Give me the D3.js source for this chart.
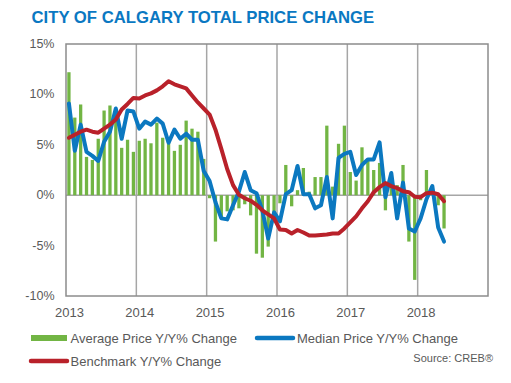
<!DOCTYPE html>
<html>
<head>
<meta charset="utf-8">
<script src="https://cdn.jsdelivr.net/npm/d3@7"></script>
<style>
  html, body { margin: 0; padding: 0; background: #fff; }
  svg { display: block; font-family: "Liberation Sans", Arial, sans-serif; }
</style>
</head>
<body>
<svg id="chart" width="511" height="383"></svg>
<script>
// ---------- data ----------
const title = "CITY OF CALGARY TOTAL PRICE CHANGE";
const years = ["2013", "2014", "2015", "2016", "2017", "2018"];
const yTicks = [15, 10, 5, 0, -5, -10];
// monthly values, Jan 2013 .. May 2018
const averageChange = [
  12.2, 7.7, 9.0, 3.8, 3.5, 5.6, 8.4, 8.9, 8.5, 4.7, 5.5, 4.3,
  5.4, 5.6, 5.15, 7.2, 5.7, 5.4, 4.4, 5.0, 7.4, 6.6, 6.3, 3.6,
  -0.3, -4.6, -2.2, -1.6, -1.5, -1.3, -0.9, -2.0, -5.8, -6.2, -5.1, -2.5,
  -0.8, 3.0, -1.1, 0.5, 2.7, 0.35, 1.8, 1.8, 6.9, 0.85, 5.1, 6.9,
  2.3, 1.45, 4.75, 3.5, 2.5, 3.2, -1.5, 1.8, 1.0, 3.0, -4.6, -8.4,
  -0.5, 2.5, 0.3, -1.0, -3.3
];
const medianChange = [
  9.1, 4.4, 7.0, 4.3, 3.9, 3.4, 5.3, 6.3, 8.6, 5.6, 8.4, 8.3,
  6.6, 7.3, 7.0, 7.6, 7.1, 5.2, 6.5, 5.6, 6.1, 5.5, 5.5, 2.4,
  1.4, -0.7, -2.3, -2.4, -1.0, 0.35, 2.3, 0.5, 0.2, -1.5, -4.3, -1.7,
  -2.6, 0.1, 0.5, 2.9, 0.1, 0.1, -1.3, -1.0, 1.8, -2.3, 3.7, 4.1,
  4.3, 2.0, 3.0, 3.55, 3.55, 5.25, -0.2, 2.2, -2.3, 1.25, -3.3, -3.6,
  -2.3, -0.4, 0.9, -3.2, -4.6
];
const benchmarkChange = [
  5.7, 6.0, 6.3, 6.5, 6.3, 6.2, 6.6, 7.0, 7.5, 8.5, 9.05, 9.65,
  9.6, 9.9, 10.1, 10.4, 10.8, 11.3, 11.0, 10.8, 10.6, 9.9, 9.2, 8.6,
  8.0, 6.5, 4.6, 2.6, 1.0, 0.05, -0.3, -0.55, -0.95, -1.5, -1.9, -2.3,
  -3.4, -3.45, -3.8, -3.45, -3.7, -4.0, -4.0, -3.95, -3.9, -3.8, -3.8, -3.3,
  -2.7, -2.1, -1.3, -0.6, 0.3, 0.8, 1.2, 0.9, 0.7, 0.4, 0.3, -0.15,
  -0.2, 0.2, 0.25, 0.1, -0.6
];
const seriesNames = ["Average Price Y/Y% Change", "Median Price Y/Y% Change", "Benchmark Y/Y% Change"];
const sourceText = "Source: CREB\u00AE";

// ---------- layout ----------
const colors = { avg: "#72b544", median: "#0b78c0", bench: "#b9212a", title: "#0a78c2", text: "#595959", grid: "#a6a6a6", frame: "#8c8c8c" };
const plot = { left: 66, right: 488, top: 44, bottom: 296 };
const monthsPerYear = 12;
const totalMonths = years.length * monthsPerYear; // axis runs Jan 2013 .. Jan 2019

const svg = d3.select("#chart");

const x = d3.scaleLinear().domain([0, totalMonths]).range([plot.left, plot.right]);
const y = d3.scaleLinear().domain([-10, 15]).range([plot.bottom, plot.top]);
const monthW = x(1) - x(0);
const barW = monthW * 0.56;

// title
svg.append("text")
  .attr("x", 31.5).attr("y", 23.3)
  .attr("fill", colors.title)
  .attr("font-weight", "bold")
  .attr("font-size", "16.7px")
  .text(title);

// vertical year gridlines
const yearBounds = d3.range(0, totalMonths + 1, monthsPerYear);
svg.append("g").selectAll("line").data(yearBounds.slice(1, -1)).join("line")
  .attr("x1", d => x(d)).attr("x2", d => x(d))
  .attr("y1", plot.top).attr("y2", plot.bottom)
  .attr("stroke", colors.grid).attr("stroke-width", 1.5);

// zero line
svg.append("line")
  .attr("x1", plot.left).attr("x2", plot.right)
  .attr("y1", y(0)).attr("y2", y(0))
  .attr("stroke", colors.grid).attr("stroke-width", 1.5);

// bars
svg.append("g").selectAll("rect").data(averageChange).join("rect")
  .attr("x", (d, i) => x(i + 0.5) - barW / 2)
  .attr("width", barW)
  .attr("y", d => y(Math.max(0, d)))
  .attr("height", d => Math.abs(y(d) - y(0)))
  .attr("fill", colors.avg);

// frame
svg.append("rect")
  .attr("x", plot.left).attr("y", plot.top)
  .attr("width", plot.right - plot.left).attr("height", plot.bottom - plot.top)
  .attr("fill", "none").attr("stroke", colors.frame).attr("stroke-width", 1.5);

// lines
const line = d3.line().x((d, i) => x(i + 0.5)).y(d => y(d)).curve(d3.curveLinear);
svg.append("path").datum(medianChange)
  .attr("d", line).attr("fill", "none")
  .attr("stroke", colors.median).attr("stroke-width", 4)
  .attr("stroke-linejoin", "round").attr("stroke-linecap", "round");
svg.append("path").datum(benchmarkChange)
  .attr("d", line).attr("fill", "none")
  .attr("stroke", colors.bench).attr("stroke-width", 4)
  .attr("stroke-linejoin", "round").attr("stroke-linecap", "round");

// y axis
const yAxis = svg.append("g")
  .attr("transform", `translate(${plot.left},0)`)
  .call(d3.axisLeft(y).tickValues(yTicks).tickFormat(d => d + "%").tickSize(0).tickPadding(11.5));
yAxis.select(".domain").remove();
yAxis.selectAll("text")
  .attr("fill", colors.text)
  .attr("font-size", "12.5px")
  .attr("font-family", "Liberation Sans, Arial, sans-serif")
  .attr("dy", "0.28em");

// x axis (labels at first month of each year)
const xAxis = svg.append("g")
  .attr("transform", `translate(0,${plot.bottom})`)
  .call(d3.axisBottom(x)
    .tickValues(years.map((yr, k) => k * monthsPerYear + 0.5))
    .tickFormat((d, k) => years[k])
    .tickSize(0).tickPadding(11.8));
xAxis.select(".domain").remove();
xAxis.selectAll("text")
  .attr("fill", colors.text)
  .attr("font-size", "13px")
  .attr("font-family", "Liberation Sans, Arial, sans-serif");

// legend
const lg = svg.append("g").attr("font-size", "13px").attr("fill", colors.text);
lg.append("rect").attr("x", 31).attr("y", 335).attr("width", 36).attr("height", 6).attr("fill", colors.avg);
lg.append("text").attr("x", 70.5).attr("y", 343).text(seriesNames[0]);
lg.append("line").attr("x1", 257).attr("x2", 293).attr("y1", 338).attr("y2", 338)
  .attr("stroke", colors.median).attr("stroke-width", 4.5).attr("stroke-linecap", "round");
lg.append("text").attr("x", 297).attr("y", 343).text(seriesNames[1]);
lg.append("line").attr("x1", 31).attr("x2", 67).attr("y1", 361).attr("y2", 361)
  .attr("stroke", colors.bench).attr("stroke-width", 4.5).attr("stroke-linecap", "round");
lg.append("text").attr("x", 70.5).attr("y", 366).text(seriesNames[2]);

svg.append("text")
  .attr("x", 493).attr("y", 362)
  .attr("text-anchor", "end")
  .attr("font-size", "11px")
  .attr("fill", colors.text)
  .text(sourceText);
</script>
</body>
</html>
